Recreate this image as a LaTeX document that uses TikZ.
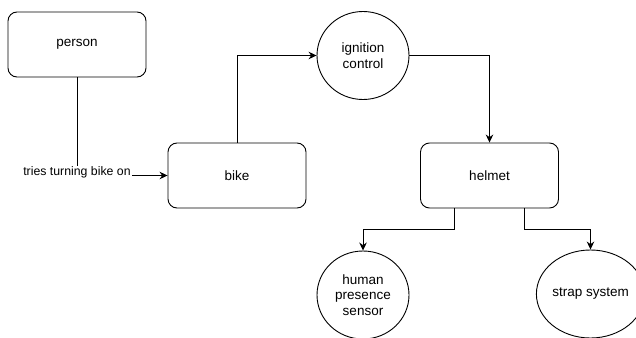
\documentclass[tikz,border=0pt]{standalone}
\usepackage{fontspec}
\setmainfont{Liberation Sans}
\usetikzlibrary{arrows.meta,shapes.geometric,calc}

\begin{document}
\begin{tikzpicture}[x=1pt,y=-1pt,
  every node/.style={align=center,font=\fontsize{13.5}{15.6}\selectfont},
  box/.style={draw,rounded corners=9pt,minimum width=138pt,minimum height=65pt,line width=0.9pt},
  roundbox/.style={draw,ellipse,minimum width=92pt,minimum height=88pt,inner sep=0pt,line width=0.9pt},
  flow/.style={-{Stealth[length=8pt,width=7.5pt]},line width=0.9pt},
  edgelabel/.style={fill=white,inner sep=1pt,yshift=3pt,font=\fontsize{12.3}{14}\selectfont}]

\useasboundingbox (0,0) rectangle (636,337);

% Position the nodes at their coordinates
\node[box] (person) at (77,44.5) {person};
\node[box] (bike) at (237,175.5) {bike};
\node[roundbox] (ignitionControl) at (363,55.5) {ignition\\control};
\node[box] (helmet) at (489.5,175.5) {helmet};
\node[roundbox] (humanPresenceSensor) at (363,295) {human\\presence\\sensor};
\node[roundbox,minimum width=89pt] (strapSystem) at (590.5,294) {strap system};

% Draw the arrows between the nodes and label them.
\draw [flow] (person) |- node[edgelabel] {tries turning bike on} (bike);
\draw [flow] (bike) |- (ignitionControl);
\draw [flow] (ignitionControl) -| (helmet);
\draw [flow] ($(helmet.south west)!0.25!(helmet.south east)$) -- ++(0,21) -| (humanPresenceSensor);
\draw [flow] ($(helmet.south west)!0.75!(helmet.south east)$) -- ++(0,21) -| (strapSystem);

\end{tikzpicture}
\end{document}
